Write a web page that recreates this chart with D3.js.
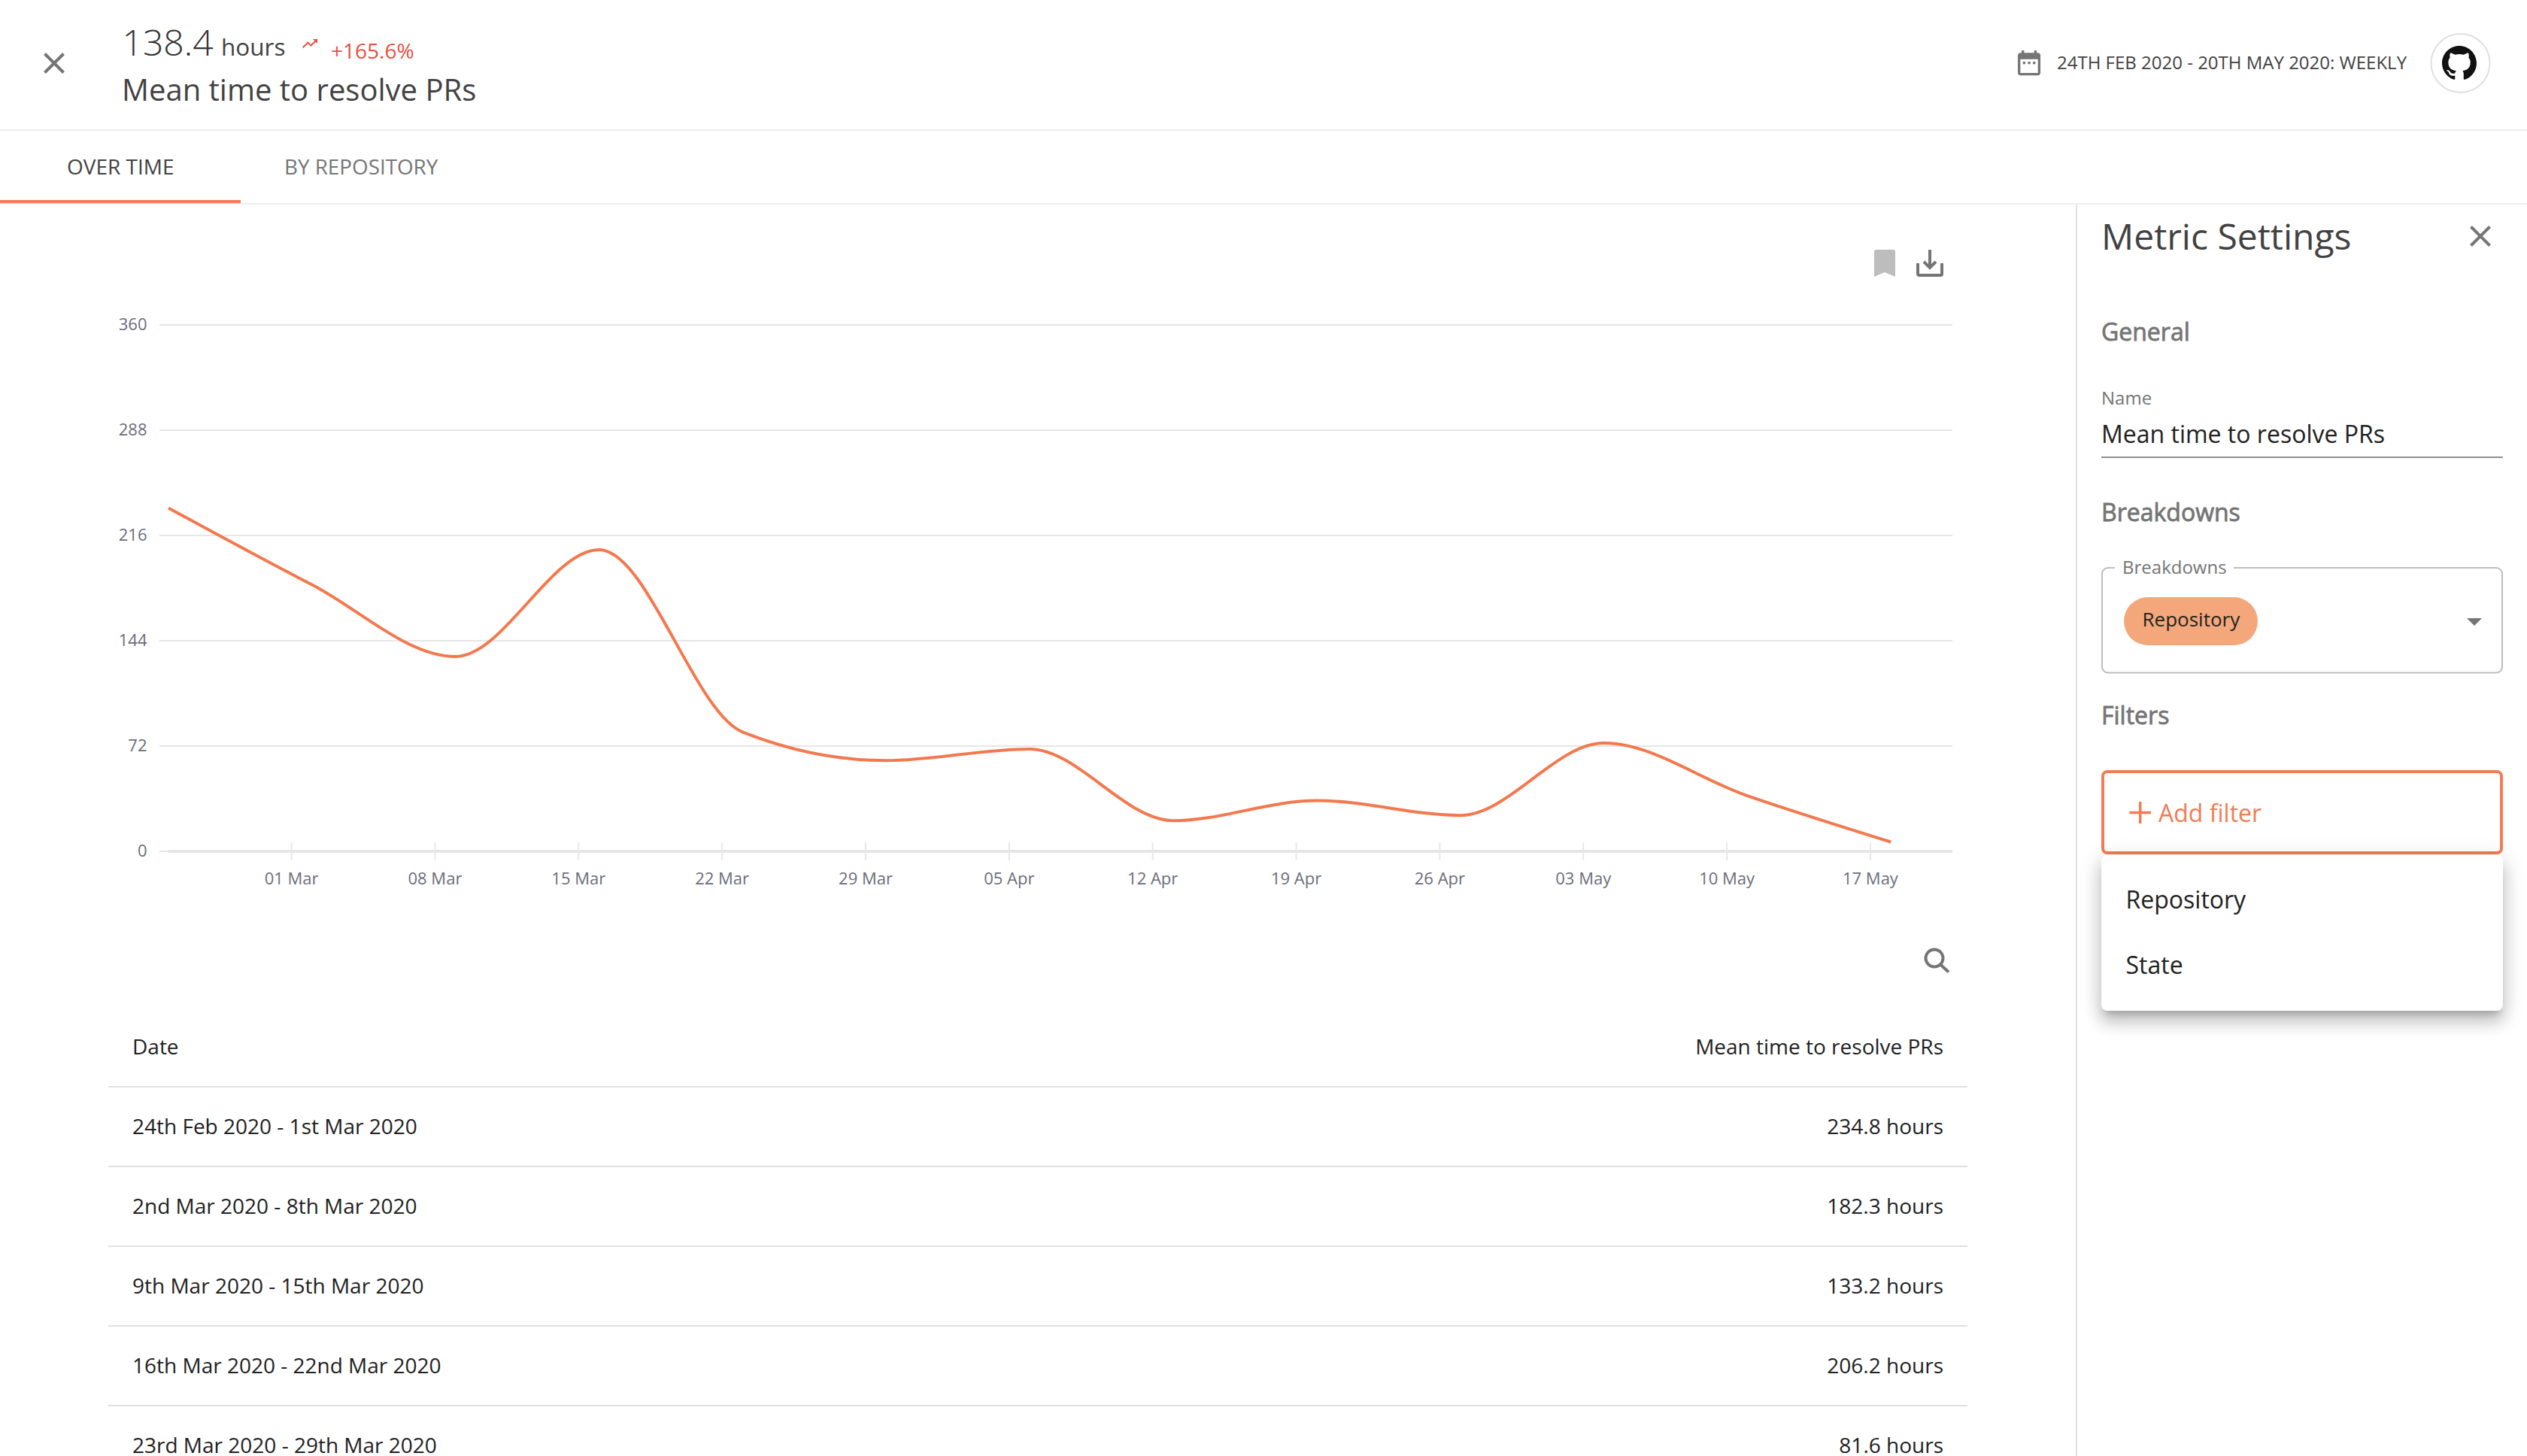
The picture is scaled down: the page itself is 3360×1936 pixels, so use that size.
<!DOCTYPE html>
<html>
<head>
<meta charset="utf-8">
<script src="https://cdn.jsdelivr.net/npm/d3@7/dist/d3.min.js"></script>
<style>
html,body{margin:0;padding:0;background:#fff;width:3360px;height:1936px;overflow:hidden;font-family:"Open Sans",sans-serif}
svg{position:absolute;left:0;top:0;display:block}
#menu{position:absolute;left:2794px;top:1137px;width:534px;height:207px;background:#fff;border-radius:8px;
box-shadow:0 10px 10px -6px rgba(0,0,0,.2),0 16px 20px 2px rgba(0,0,0,.14),0 6px 28px 4px rgba(0,0,0,.12)}
text{font-family:"Open Sans",sans-serif}
</style>
</head>
<body>
<svg id="page" width="3360" height="1936"></svg>
<div id="menu"></div>
<svg id="over" width="3360" height="1936"></svg>
<script>
// ---- data ----
const weekStarts = ["2020-02-24","2020-03-02","2020-03-09","2020-03-16","2020-03-23","2020-03-30","2020-04-06","2020-04-13","2020-04-20","2020-04-27","2020-05-04","2020-05-11","2020-05-18"];
const meanHours  = [234.8,182.3,133.2,206.2,81.6,62.1,70,21,34.7,24.6,74,38,6.4];
const yTicks = [0,72,144,216,288,360];
const xTicks = ["2020-03-01","2020-03-08","2020-03-15","2020-03-22","2020-03-29","2020-04-05","2020-04-12","2020-04-19","2020-04-26","2020-05-03","2020-05-10","2020-05-17"];
const xDomain = ["2020-02-24","2020-05-21"];
const tableHeaders = ["Date","Mean time to resolve PRs"];
const tableDates  = ["24th Feb 2020 - 1st Mar 2020","2nd Mar 2020 - 8th Mar 2020","9th Mar 2020 - 15th Mar 2020","16th Mar 2020 - 22nd Mar 2020","23rd Mar 2020 - 29th Mar 2020"];
const tableValues = ["234.8 hours","182.3 hours","133.2 hours","206.2 hours","81.6 hours"];
const filterOptions = ["Repository","State"];

const ORANGE="#f27c53", GREY="#757575", DARK="#212121", HEAD="#424242", RULE="#e0e0e0", TICK="#6b6d7b", RED="#e8503f";
const svg=d3.select("#page"), over=d3.select("#over");
const parse=d3.utcParse("%Y-%m-%d");

function label(root,x,y,t,size,fill,opt={}){
  const s=root.append("text").attr("x",x).attr("y",y).attr("font-size",size).attr("fill",fill)
    .attr("font-weight",opt.weight||400).attr("text-anchor",opt.anchor||"start").text(t);
  if(opt.faux) s.attr("stroke",fill).attr("stroke-width",opt.faux);
  return s;
}
function rule(x1,y1,x2,y2,c,w){svg.append("line").attr("x1",x1).attr("y1",y1).attr("x2",x2).attr("y2",y2).attr("stroke",c).attr("stroke-width",w);}
function cross(cx,cy,r,c,w){svg.append("path").attr("d",`M${cx-r} ${cy-r}L${cx+r} ${cy+r}M${cx+r} ${cy-r}L${cx-r} ${cy+r}`).attr("stroke",c).attr("stroke-width",w).attr("fill","none");}

// ---- header ----
rule(0,173,3360,173,"#eeeeee",2);
rule(0,271,3360,271,"#eeeeee",2);
cross(72,84,12.5,GREY,4);
label(svg,162.5,74,"138.4",48,"#333333",{weight:300});
label(svg,294,74,"hours",31.5,HEAD);
svg.append("path").attr("transform","translate(400,46)").attr("fill",RED)
  .attr("d","M16 6l2.29 2.29-4.88 4.88-4-4L2 16.59 3.41 18l6-6 4 4 6.3-6.29L22 12V6z");
label(svg,440,77.5,"+165.6%",28,RED);
label(svg,162,134,"Mean time to resolve PRs",40,HEAD);
svg.append("path").attr("transform","translate(2678,63.6) scale(1.67)").attr("fill",GREY)
  .attr("d","M9 11H7v2h2v-2zm4 0h-2v2h2v-2zm4 0h-2v2h2v-2zm2-7h-1V2h-2v2H8V2H6v2H5c-1.11 0-1.99.9-1.99 2L3 20c0 1.1.89 2 2 2h14c1.1 0 2-.9 2-2V6c0-1.1-.9-2-2-2zm0 16H5V9h14v11z");
label(svg,2735,92,"24TH FEB 2020 - 20TH MAY 2020: WEEKLY",24,HEAD);
svg.append("circle").attr("cx",3271.5).attr("cy",84).attr("r",39).attr("fill","#fff").attr("stroke",RULE).attr("stroke-width",2);
svg.append("path").attr("transform","translate(3247,61) scale(2.875)").attr("fill","#111")
  .attr("d","M8 0C3.58 0 0 3.58 0 8c0 3.54 2.29 6.53 5.47 7.59.4.07.55-.17.55-.38 0-.19-.01-.82-.01-1.49-2.01.37-2.53-.49-2.69-.94-.09-.23-.48-.94-.82-1.13-.28-.15-.68-.52-.01-.53.63-.01 1.08.58 1.23.82.72 1.21 1.87.87 2.33.66.07-.52.28-.87.51-1.07-1.78-.2-3.64-.89-3.64-3.95 0-.87.31-1.59.82-2.15-.08-.2-.36-1.02.08-2.12 0 0 .67-.21 2.2.82.64-.18 1.32-.27 2-.27.68 0 1.36.09 2 .27 1.53-1.04 2.2-.82 2.2-.82.44 1.1.16 1.92.08 2.12.51.56.82 1.27.82 2.15 0 3.07-1.87 3.75-3.65 3.95.29.25.54.73.54 1.48 0 1.07-.01 1.93-.01 2.2 0 .21.15.46.55.38A8.013 8.013 0 0016 8c0-4.42-3.58-8-8-8z");

// ---- tabs ----
svg.append("rect").attr("x",0).attr("y",266).attr("width",320).attr("height",4).attr("fill",ORANGE);
label(svg,89,231.5,"OVER TIME",28,HEAD);
label(svg,378,231.5,"BY REPOSITORY",27.8,GREY);

// ---- chart ----
const x=d3.scaleUtc().domain(xDomain.map(parse)).range([224,2596]);
const y=d3.scaleLinear().domain([0,360]).range([1132,432]);

const gy=svg.append("g").attr("transform","translate(212,0)")
  .call(d3.axisLeft(y).tickValues(yTicks).tickSize(-2384).tickPadding(16.5).offset(0));
gy.select(".domain").remove();
gy.selectAll("line").attr("stroke","#e6e6e6").attr("stroke-width",2);
gy.selectAll("text").attr("font-size",22).attr("fill",TICK).attr("font-family","Open Sans");

const gx=svg.append("g").attr("transform","translate(0,1132)")
  .call(d3.axisBottom(x).tickValues(xTicks.map(parse)).tickFormat(d3.utcFormat("%d %b")).tickSize(12).tickSizeOuter(0).offset(0));
gx.select(".domain").attr("stroke","#e6e6e9").attr("stroke-width",4);
gx.selectAll("line").attr("y1",-12).attr("stroke","#e8e8ea").attr("stroke-width",2);
gx.selectAll("text").attr("y",44).attr("dy",0).attr("font-size",22).attr("fill",TICK).attr("font-family","Open Sans");

const lineGen=d3.line().x((d,i)=>x(parse(weekStarts[i]))).y(d=>y(d)).curve(d3.curveMonotoneX);
svg.append("path").datum(meanHours).attr("d",lineGen).attr("fill","none").attr("stroke","#f4784d").attr("stroke-width",4);

// chart toolbar icons
svg.append("path").attr("fill","#bdbdbd").attr("d","M2495 332h22a3 3 0 0 1 3 3v33l-14-6-14 6v-33a3 3 0 0 1 3-3z");
svg.append("path").attr("fill","none").attr("stroke",GREY).attr("stroke-width",4)
  .attr("d","M2566 332v23M2558 348l8 8 8-8M2550 350v14a2 2 0 0 0 2 2h28a2 2 0 0 0 2-2v-14");
svg.append("circle").attr("cx",2572).attr("cy",1274).attr("r",11.5).attr("fill","none").attr("stroke",GREY).attr("stroke-width",4);
svg.append("line").attr("x1",2580).attr("y1",1282.5).attr("x2",2591).attr("y2",1292.5).attr("stroke",GREY).attr("stroke-width",4);

// ---- table ----
const rowY=d3.scaleLinear().domain([0,1]).range([1401.5,1507.5]); // header row = 0
label(svg,176,rowY(0),tableHeaders[0],28,DARK);
label(svg,2584,rowY(0),tableHeaders[1],28,DARK,{anchor:"end"});
tableDates.forEach((d,i)=>{
  label(svg,176,rowY(i+1),d,28,DARK);
  label(svg,2584,rowY(i+1),tableValues[i],28,DARK,{anchor:"end"});
  rule(144,rowY(i)+43.5,2616,rowY(i)+43.5,RULE,2);
});

// ---- settings panel ----
rule(2761,272,2761,1936,RULE,2);
label(svg,2794,332,"Metric Settings",48,HEAD);
cross(3298,314,12.5,GREY,4);
label(svg,2794,453,"General",32,GREY,{faux:0.8});
label(svg,2794,538,"Name",24,GREY);
label(svg,2794,589,"Mean time to resolve PRs",32,DARK);
rule(2794,608,3328,608,"#8f8f8f",2);
label(svg,2794,693,"Breakdowns",32,GREY,{faux:0.8});
svg.append("rect").attr("x",2795).attr("y",755).attr("width",532).attr("height",139.5).attr("rx",8).attr("fill","#fff").attr("stroke","#bdbdbd").attr("stroke-width",2);
svg.append("rect").attr("x",2812).attr("y",750).attr("width",158).attr("height",10).attr("fill","#fff");
label(svg,2822,763,"Breakdowns",24,GREY);
svg.append("rect").attr("x",2824).attr("y",794).attr("width",178).attr("height",64).attr("rx",32).attr("fill","#f4a77a");
label(svg,2848.5,833,"Repository",26,DARK);
svg.append("path").attr("d","M3280 822h20l-10 10z").attr("fill",GREY);
label(svg,2794,963,"Filters",32,GREY,{faux:0.8});
svg.append("rect").attr("x",2796).attr("y",1026).attr("width",530).attr("height",108).attr("rx",6).attr("fill","#fff").attr("stroke",ORANGE).attr("stroke-width",4);
svg.append("path").attr("d","M2831.5 1080.5h28.5M2845.7 1066v29").attr("stroke",ORANGE).attr("stroke-width",3.5).attr("fill","none");
label(svg,2870,1093,"Add filter",32,ORANGE);
filterOptions.forEach((d,i)=>label(over,2826.5,1208+87*i,d,32,DARK));
</script>
</body>
</html>
